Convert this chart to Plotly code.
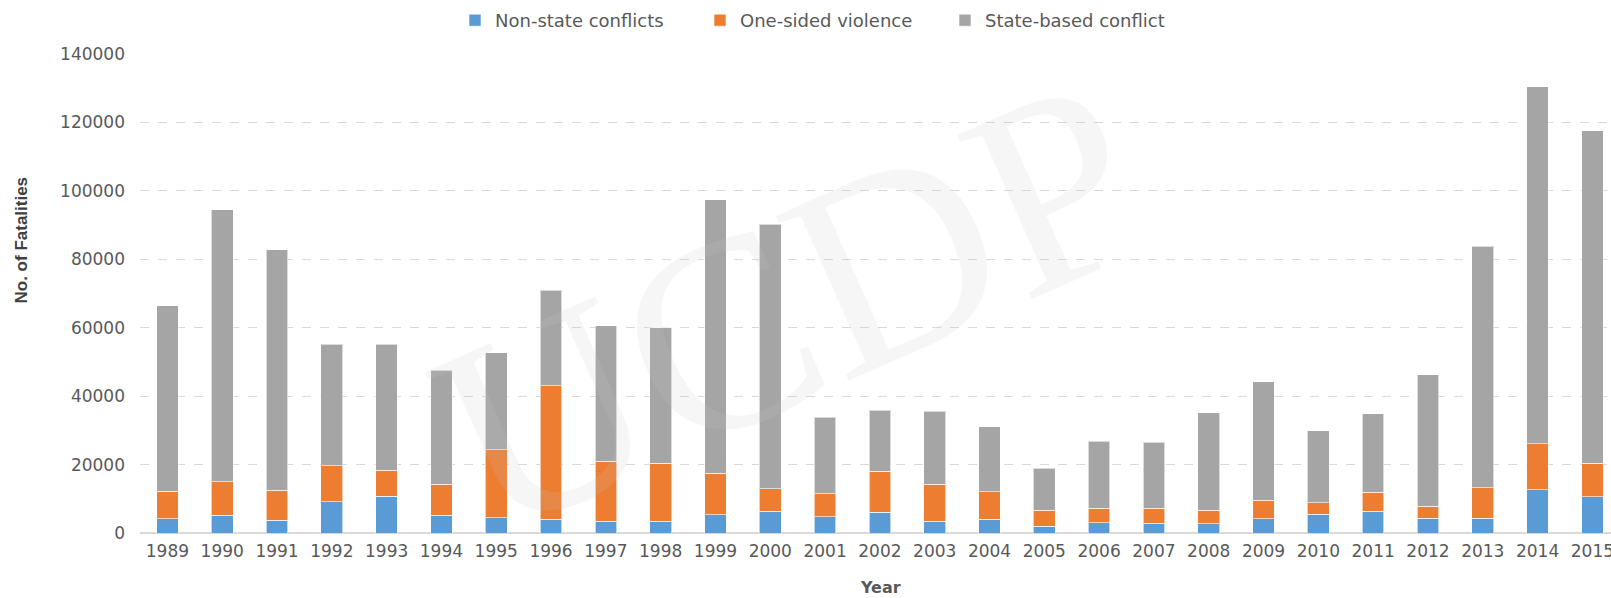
import plotly.graph_objects as go

years = [str(y) for y in range(1989, 2016)]

# cumulative tops
non_state = [4180, 5150, 3690, 9140, 10700, 5150, 4470, 4090, 3390, 3390,
             5340, 6420, 4760, 6020, 3390, 3970, 2040, 3010, 2810, 2690,
             4150, 5490, 6370, 4380, 4380, 12620, 10630]
one_sided_top = [12270, 14980, 12450, 19660, 18400, 14200, 24330, 43020, 21030, 20440,
                 17410, 12940, 11480, 18100, 14200, 12060, 6710, 7190, 7300, 6600,
                 9610, 8820, 11860, 7830, 13290, 26020, 20330]
total_top = [66380, 94420, 82740, 55200, 55200, 47500, 52660, 70970, 60630, 59960,
             97430, 90240, 33760, 35920, 35520, 31040, 18880, 26760, 26470, 35160,
             44190, 29910, 34820, 46200, 83790, 130430, 117610]

one_sided = [o - n for o, n in zip(one_sided_top, non_state)]
state_based = [t - o for t, o in zip(total_top, one_sided_top)]

series_names = ["Non-state conflicts", "One-sided violence", "State-based conflict"]
series_colors = ["#5B9BD5", "#ED7D31", "#A5A5A5"]
series_values = [non_state, one_sided, state_based]

W, H = 1611, 598
L, R, T, B = 140, 0, 54, 65
pw = W - L - R
ph = H - T - B


def px_x(p):
    return (p - L) / pw


def px_y(p):
    return (H - B - p) / ph


fig = go.Figure()
for name, col, vals in zip(series_names, series_colors, series_values):
    fig.add_trace(go.Bar(
        x=years, y=vals, name=name,
        marker=dict(color=col, line=dict(color="rgba(255,255,255,0.6)", width=1)),
        width=0.396,
    ))

tick_font = dict(family="DejaVu Sans", size=17, color="#595959")

fig.update_layout(
    width=W, height=H,
    margin=dict(l=L, r=R, t=T, b=B, pad=0, autoexpand=False),
    barmode="stack",
    plot_bgcolor="white", paper_bgcolor="white",
    font=tick_font,
    showlegend=True,
    legend=dict(
        orientation="h", traceorder="normal",
        x=px_x(455), xanchor="left", y=px_y(20.5), yanchor="middle",
        font=dict(family="DejaVu Sans", size=18, color="#595959"),
        entrywidth=200, entrywidthmode="pixels",
        bgcolor="rgba(0,0,0,0)",
    ),
    xaxis=dict(
        type="category", range=[-0.5, 26.34], automargin=False,
        showgrid=False, showline=False, zeroline=False,
        ticks="", tickfont=tick_font, ticklabelstandoff=6,
    ),
    yaxis=dict(
        range=[0, 140000], dtick=20000, tickformat="d", automargin=False,
        showgrid=True, gridcolor="#D9D9D9", griddash="dash", gridwidth=1,
        zeroline=True, zerolinecolor="#D9D9D9", zerolinewidth=1.5,
        showline=False, ticks="", tickfont=tick_font, ticklabelstandoff=14,
    ),
)

fig.add_annotation(
    text="No. of Fatalities", textangle=-90,
    xref="paper", yref="paper", x=px_x(20.5), y=px_y(240),
    xanchor="center", yanchor="middle", showarrow=False,
    font=dict(family="Liberation Sans Narrow, Liberation Sans", size=17, color="#404040", weight="bold"),
)
fig.add_annotation(
    text="Year",
    xref="paper", yref="paper", x=px_x(880), y=px_y(599),
    xanchor="center", yanchor="bottom", showarrow=False,
    font=dict(family="DejaVu Sans", size=16, color="#595959", weight="bold"),
)
# faint watermark
fig.add_annotation(
    text="UCDP", textangle=-24,
    xref="paper", yref="paper", x=px_x(790), y=px_y(305),
    xanchor="center", yanchor="middle", showarrow=False,
    font=dict(family="Liberation Serif", size=275, color="rgba(200,200,200,0.16)"),
)

fig.write_html(
    "out.html",
    config={"displayModeBar": False},
    post_script="document.body.style.margin='0';document.body.style.overflow='hidden';",
)
